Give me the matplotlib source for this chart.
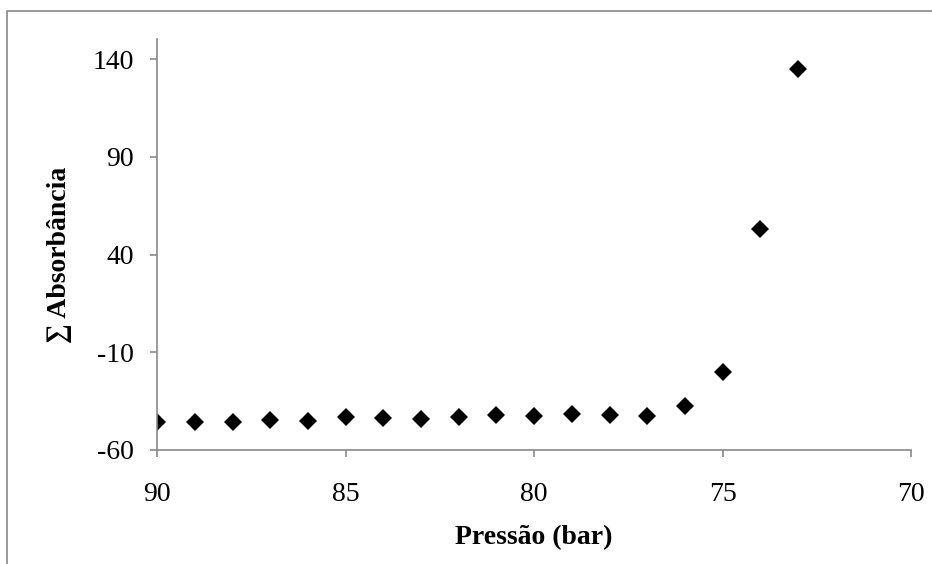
import numpy as np
import matplotlib.pyplot as plt
from matplotlib.patches import Rectangle

# Dados
pressao = [90, 89, 88, 87, 86, 85, 84, 83, 82, 81, 80, 79, 78, 77, 76, 75, 74, 73]
absorbancia = [-45.5, -45.5, -45.5, -44.7, -45.2, -43.0, -43.5, -44.3, -43.0, -42.1,
               -42.6, -41.6, -42.1, -42.6, -37.5, -20.3, 52.9, 134.7]
yticks = [-60, -10, 40, 90, 140]
xticks = [90, 85, 80, 75, 70]

plt.rcParams['font.family'] = ['Liberation Serif', 'DejaVu Serif']
plt.rcParams['axes.unicode_minus'] = False

fig = plt.figure(figsize=(9.32, 5.64), dpi=100)
ax = fig.add_axes([157.3 / 932, 1 - 450 / 564, (911 - 157.3) / 932, (450 - 39.5) / 564])

ax.plot(pressao, absorbancia, 'D', color='black', markersize=9.5, markeredgewidth=0)

ax.set_xlim(90, 70)
ax.set_ylim(-60, 150)
ax.set_xticks(xticks)
ax.set_yticks(yticks)

for s in ['top', 'right']:
    ax.spines[s].set_visible(False)
for s in ['left', 'bottom']:
    ax.spines[s].set_color('#898989')
    ax.spines[s].set_linewidth(1.2)
ax.tick_params(direction='out', length=5, width=1.2, color='#898989',
               labelsize=20, labelcolor='black')
ax.tick_params(axis='y', pad=12)
ax.tick_params(axis='x', pad=18)

ax.set_xlabel('Pressão (bar)', fontsize=20, fontweight='bold')
ax.set_ylabel('∑ Absorbância', fontsize=20, fontweight='bold')
ax.xaxis.set_label_coords(0.5, -(538 - 450) / (450 - 39.5), transform=ax.transAxes)
ax.yaxis.set_label_coords((60 - 157.3) / (911 - 157.3), (450 - 255) / (450 - 39.5))
ax.xaxis.label.set_va('center')
ax.yaxis.label.set_va('center')

# moldura do gráfico
fig.patches.append(Rectangle((7 / 932, -0.1), 1.2, 1 - 11 / 564 + 0.1,
                             transform=fig.transFigure, fill=False,
                             edgecolor='#898989', linewidth=1.2))

fig.savefig('out.png', dpi=100)
